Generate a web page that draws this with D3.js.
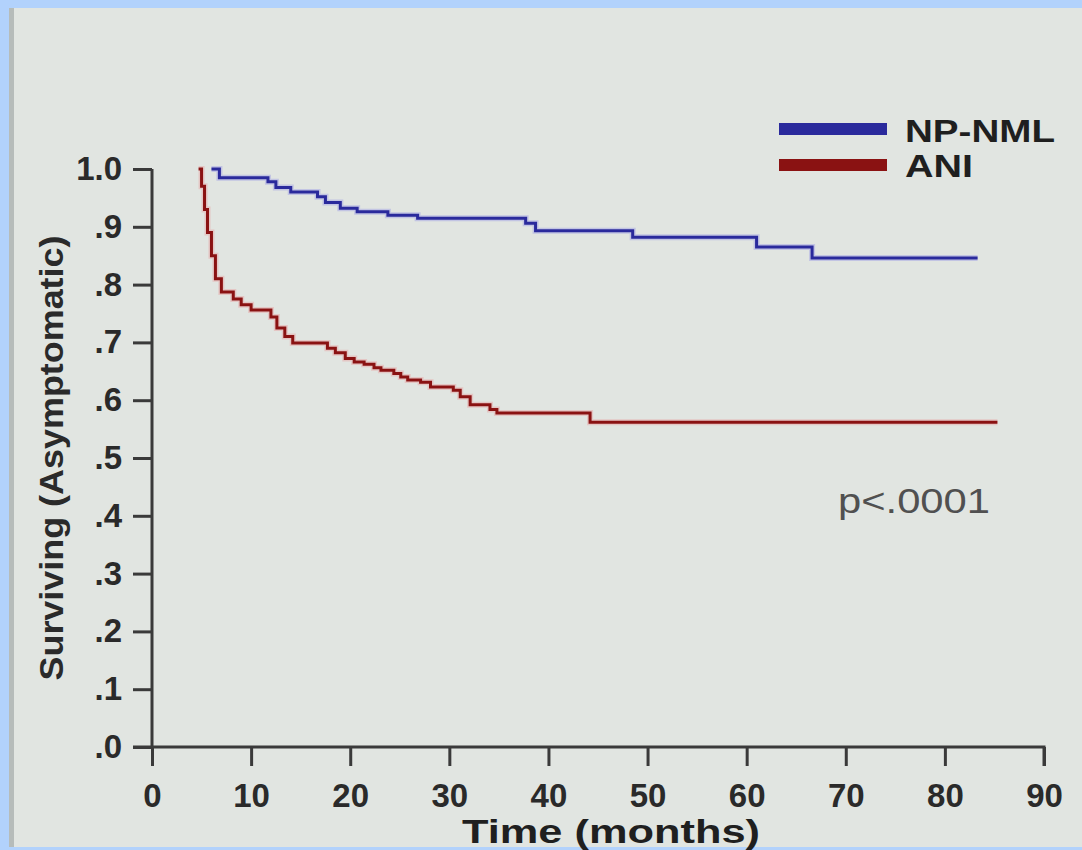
<!DOCTYPE html>
<html>
<head>
<meta charset="utf-8">
<script src="https://cdn.jsdelivr.net/npm/d3@7"></script>
<style>
  html, body { margin: 0; padding: 0; background: #b2d2fc; }
  #canvas { width: 1082px; height: 850px; }
</style>
</head>
<body>
<div id="canvas"></div>
<script>
(function(d3){

  // Kaplan-Meier steps
  var npTime = [6, 6.8, 11.7, 12.5, 14, 16.7, 17.5, 19, 20.7, 23.8, 26.8, 37.7, 38.7, 48.5, 61, 66.6, 83.3],
      npSurv = [1.0, 0.985, 0.978, 0.968, 0.96, 0.952, 0.942, 0.932, 0.926, 0.92, 0.915, 0.906, 0.893, 0.882, 0.865, 0.846, 0.846];

  var aniTime = [4.7, 5.0, 5.3, 5.6, 6.0, 6.4, 7.0, 8.2, 9.0, 10.0, 12.0, 12.6, 13.4, 14.2, 17.7, 18.5, 19.5, 20.4, 21.4,
                 22.4, 23.1, 24.4, 25.1, 25.8, 27.1, 28.1, 30.4, 31.1, 32.1, 34.1, 34.8, 44.2, 85.3],
      aniSurv = [1.0, 0.97, 0.93, 0.89, 0.85, 0.81, 0.787, 0.775, 0.765, 0.756, 0.744, 0.725, 0.71, 0.699, 0.69, 0.682, 0.672, 0.666, 0.662,
                 0.656, 0.652, 0.646, 0.64, 0.635, 0.631, 0.623, 0.617, 0.606, 0.592, 0.584, 0.578, 0.562, 0.562];

  var xTicks = [0, 10, 20, 30, 40, 50, 60, 70, 80, 90],
      yTicks = [0, 0.1, 0.2, 0.3, 0.4, 0.5, 0.6, 0.7, 0.8, 0.9, 1.0],
      seriesNames = ['NP-NML', 'ANI'],
      seriesColors = ['#2a2a9c', '#8a1212'];

  var canvas_d = {width: 1082, height: 850},
      margin = {top: 169, left: 152},
      chart_d = {width: 1044 - 152, height: 747 - 169};

  var font = 'Liberation Sans, Arial, sans-serif';

  var canvas = d3.select('#canvas').append('svg')
      .attr('width', canvas_d.width)
      .attr('height', canvas_d.height);

  // slide panel
  canvas.append('rect')
      .attr('x', 9).attr('y', 8)
      .attr('width', canvas_d.width - 9).attr('height', 839)
      .attr('fill', '#e1e5e1');
  canvas.append('rect')
      .attr('x', 9).attr('y', 8)
      .attr('width', 5).attr('height', 839)
      .attr('fill', '#9aa0a0').attr('opacity', 0.6);

  var chart = canvas.append('g')
      .attr('transform', 'translate(' + margin.left + ',' + margin.top + ')');

  var x = d3.scaleLinear().domain([0, 90]).range([0, chart_d.width]),
      y = d3.scaleLinear().domain([0, 1]).range([chart_d.height, 0]);

  var xAxis = chart.append('g')
      .attr('transform', 'translate(0,' + chart_d.height + ')')
      .call(d3.axisBottom(x).tickValues(xTicks).tickSize(19).tickPadding(12).tickFormat(d3.format('d')));

  var yAxis = chart.append('g')
      .call(d3.axisLeft(y).tickValues(yTicks).tickSize(19).tickPadding(11)
        .tickFormat(function(d){ return d === 1 ? '1.0' : d3.format('.1f')(d).replace(/^0/, ''); }));

  [xAxis, yAxis].forEach(function(a){
    a.select('.domain').attr('stroke', '#3a3a3a').attr('stroke-width', 3);
    a.selectAll('.tick line').attr('stroke', '#3a3a3a').attr('stroke-width', 3);
    a.selectAll('.tick text')
      .attr('fill', '#2a2a2a')
      .style('font-family', font)
      .style('font-weight', 'bold')
      .style('font-size', '33px');
  });
  xAxis.selectAll('.tick text').attr('dy', '0.87em');
  xAxis.select('.domain').attr('d', 'M-19,0H' + chart_d.width + 'V19');
  yAxis.select('.domain').attr('d', 'M0,0V' + chart_d.height);

  // curves
  var line = d3.line()
      .x(function(d){ return x(d[0]); })
      .y(function(d){ return y(d[1]); })
      .curve(d3.curveStepAfter);

  var series = [d3.zip(npTime, npSurv), d3.zip(aniTime, aniSurv)];

  chart.selectAll('path.halo')
      .data(series)
    .enter().append('path')
      .attr('class', 'halo')
      .attr('d', line)
      .attr('fill', 'none')
      .attr('stroke', function(d, i){ return i === 0 ? '#a4a4e6' : '#e8a8a8'; })
      .attr('stroke-width', 6)
      .attr('opacity', 0.5);

  chart.selectAll('path.km')
      .data(series)
    .enter().append('path')
      .attr('class', 'km')
      .attr('d', line)
      .attr('fill', 'none')
      .attr('stroke', function(d, i){ return seriesColors[i]; })
      .attr('stroke-width', 3);

  // legend
  var legend = canvas.append('g');
  legend.selectAll('line')
      .data(seriesNames)
    .enter().append('line')
      .attr('x1', 779).attr('x2', 887)
      .attr('y1', function(d, i){ return 129 + 36 * i; })
      .attr('y2', function(d, i){ return 129 + 36 * i; })
      .attr('stroke', function(d, i){ return seriesColors[i]; })
      .attr('stroke-width', 12);
  legend.selectAll('text')
      .data(seriesNames)
    .enter().append('text')
      .attr('x', 905)
      .attr('y', function(d, i){ return 130 + 35 * i; })
      .attr('dy', '0.36em')
      .attr('fill', '#1f1f1f')
      .attr('textLength', function(d, i){ return i === 0 ? 150 : 68; })
      .attr('lengthAdjust', 'spacingAndGlyphs')
      .style('font-family', font)
      .style('font-weight', 'bold')
      .style('font-size', '32px')
      .text(function(d){ return d; });

  // p value
  canvas.append('text')
      .attr('x', 838).attr('y', 513)
      .attr('fill', '#505050')
      .attr('textLength', 152)
      .attr('lengthAdjust', 'spacingAndGlyphs')
      .style('font-family', font)
      .style('font-size', '35px')
      .text('p<.0001');

  // axis titles
  canvas.append('text')
      .attr('x', 611).attr('y', 843)
      .attr('text-anchor', 'middle')
      .attr('fill', '#1f1f1f')
      .attr('textLength', 298)
      .attr('lengthAdjust', 'spacingAndGlyphs')
      .style('font-family', font)
      .style('font-weight', 'bold')
      .style('font-size', '33px')
      .text('Time (months)');

  canvas.append('text')
      .attr('transform', 'translate(63,458) rotate(-90)')
      .attr('text-anchor', 'middle')
      .attr('fill', '#2a2a2a')
      .attr('textLength', 445)
      .attr('lengthAdjust', 'spacingAndGlyphs')
      .style('font-family', font)
      .style('font-weight', 'bold')
      .style('font-size', '34px')
      .text('Surviving (Asymptomatic)');

})(d3);
</script>
</body>
</html>
